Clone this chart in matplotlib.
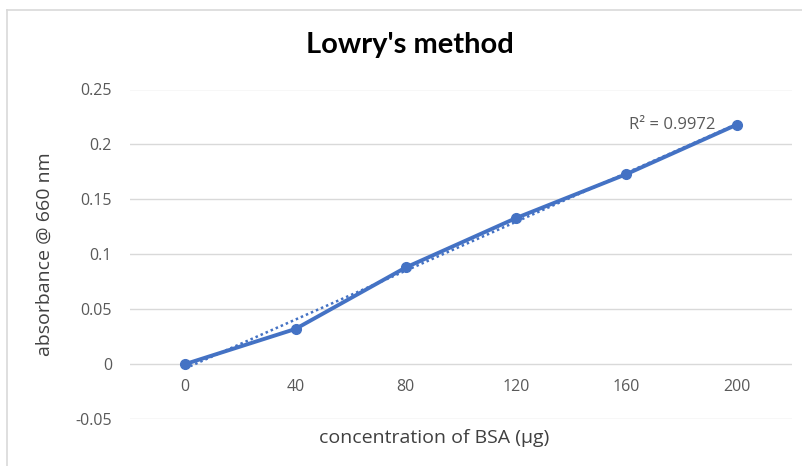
import matplotlib
matplotlib.use("Agg")
import matplotlib.pyplot as plt
from matplotlib.lines import Line2D
import numpy as np

categories = ["0", "40", "80", "120", "160", "200"]
absorbance = [0.0, 0.032, 0.088, 0.133, 0.173, 0.218]
y_ticks = [-0.05, 0, 0.05, 0.1, 0.15, 0.2, 0.25]
y_tick_labels = ["-0.05", "0", "0.05", "0.1", "0.15", "0.2", "0.25"]
title = "Lowry's method"
x_label = "concentration of BSA (µg)"
y_label = "absorbance @ 660 nm"
r2_text = "R² = 0.9972"

plt.rcParams['font.family'] = ['Open Sans', 'DejaVu Sans']

W, H = 803, 466
fig = plt.figure(figsize=(W / 100, H / 100), dpi=100)
fig.patch.set_facecolor("white")

left, right, top, bottom = 130, 792, 89.5, 419
ax = fig.add_axes([left / W, 1 - bottom / H, (right - left) / W, (bottom - top) / H])

blue = "#4472C4"
gray_text = "#595959"
grid_col = "#D9D9D9"

x = np.arange(len(categories))
ax.plot(x, absorbance, color=blue, lw=2.8, marker="o", ms=7, zorder=3,
        solid_capstyle="round")

# linear trendline
coef = np.polyfit(x, absorbance, 1)
xt = np.array([x[0], x[-1]])
ax.plot(xt, np.polyval(coef, xt), color=blue, lw=1.8, ls=(0, (1, 1.2)), zorder=2)

ax.set_xlim(-0.5, len(categories) - 0.5)
ax.set_ylim(-0.05, 0.25)
ax.set_yticks(y_ticks)
ax.set_yticklabels(y_tick_labels)
ax.yaxis.grid(True, color=grid_col, lw=1)
ax.set_axisbelow(True)

for s in ["left", "right", "top"]:
    ax.spines[s].set_visible(False)
ax.spines["bottom"].set_position(("data", 0))
ax.spines["bottom"].set_visible(False)

ax.set_xticks(x)
ax.set_xticklabels(categories)
ax.tick_params(axis="x", length=0, pad=11, labelsize=11.5, labelcolor=gray_text)
ax.tick_params(axis="y", length=0, pad=13, labelsize=11.5, labelcolor=gray_text)

ax.text(x[-1] - 0.19, absorbance[-1], r2_text, ha="right", va="center",
        fontsize=12, color=gray_text)

fig.text(410 / W, 1 - 45 / H, title, ha="center", va="center",
         fontsize=21, fontweight="bold", color="black", family=["Lato", "DejaVu Sans"])
fig.text(434 / W, 1 - 438 / H, x_label, ha="center", va="center",
         fontsize=14, color="#404040")
fig.text(45 / W, 1 - 254 / H, y_label, ha="center", va="center",
         rotation=90, fontsize=14, color="#404040")

# chart border (cut off at right and bottom)
fig.add_artist(Line2D([7 / W, 7 / W], [0, 1 - 10 / H], color=grid_col, lw=1.2))
fig.add_artist(Line2D([7 / W, 1], [1 - 10 / H, 1 - 10 / H], color=grid_col, lw=1.2))

fig.savefig("out.png", dpi=100, facecolor="white")
